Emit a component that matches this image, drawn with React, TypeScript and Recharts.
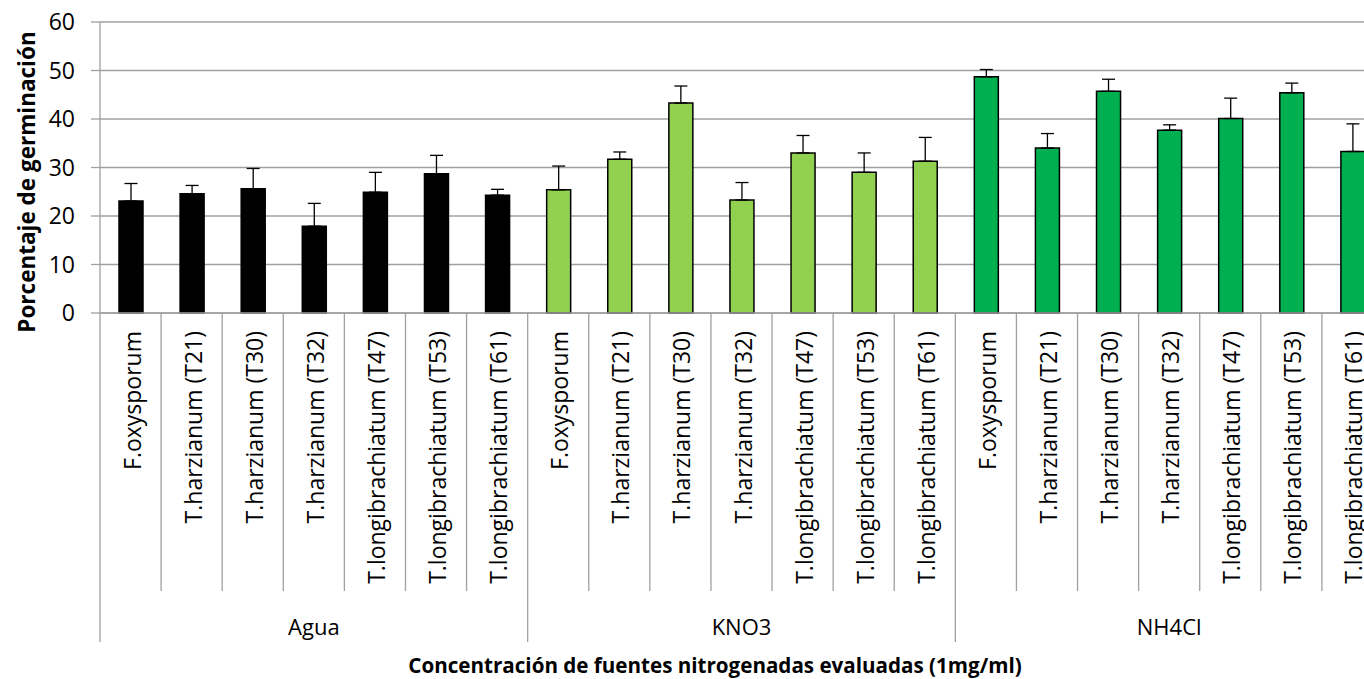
import { BarChart, Bar, XAxis, YAxis, CartesianGrid, Cell, ErrorBar } from 'recharts';

const SPECIES = [
  'F.oxysporum',
  'T.harzianum (T21)',
  'T.harzianum (T30)',
  'T.harzianum (T32)',
  'T.longibrachiatum (T47)',
  'T.longibrachiatum (T53)',
  'T.longibrachiatum (T61)',
];
const GROUPS = ['Agua', 'KNO3', 'NH4Cl'];

const AGUA = [23.1, 24.6, 25.6, 17.9, 24.9, 28.7, 24.3];
const AGUA_ERR = [3.6, 1.7, 4.2, 4.7, 4.1, 3.8, 1.2];
const KNO3 = [25.4, 31.7, 43.3, 23.3, 33.0, 29.0, 31.3];
const KNO3_ERR = [4.9, 1.5, 3.5, 3.6, 3.6, 4.0, 4.9];
const NH4CL = [48.7, 34.0, 45.7, 37.7, 40.1, 45.4, 33.3];
const NH4CL_ERR = [1.5, 3.0, 2.5, 1.1, 4.2, 2.0, 5.7];

const Y_TICKS = [0, 10, 20, 30, 40, 50, 60];
const GROUP_COLORS = ['#000000', '#92D050', '#00B050'];
const GRID = '#a0a0a0';

const VALUES = [AGUA, KNO3, NH4CL];
const ERRORS = [AGUA_ERR, KNO3_ERR, NH4CL_ERR];

const rows = GROUPS.flatMap((group, g) =>
  SPECIES.map((species, s) => ({
    id: `${group}-${species}`,
    group,
    species,
    groupIndex: g,
    value: VALUES[g][s],
    err: [0, ERRORS[g][s]],
  }))
);

const FONT = '"Open Sans", sans-serif';

function CategoryTick(props: any) {
  const { x, y, index, payload } = props;
  const half = payload?.offset || 30.55;
  const row = rows[index];
  const pos = index % SPECIES.length;
  const left = x - half;
  return (
    <g>
      <line x1={left} y1={y} x2={left} y2={y + (pos === 0 ? 329 : 278)} stroke={GRID} strokeWidth={1.3} />
      {index === rows.length - 1 && (
        <line x1={x + half} y1={y} x2={x + half} y2={y + 329} stroke={GRID} strokeWidth={1.3} />
      )}
      <text
        x={x + 10}
        y={y + 18}
        transform={`rotate(-90 ${x + 10} ${y + 18})`}
        textAnchor="end"
        fontSize={23}
        fill="#000"
        fontFamily={FONT}
      >
        {row.species}
      </text>
      {pos === 3 && (
        <text x={x} y={y + 322} textAnchor="middle" fontSize={22} fill="#000" fontFamily={FONT}>
          {row.group}
        </text>
      )}
    </g>
  );
}

function ValueTick(props: any) {
  const { y, payload } = props;
  return (
    <text x={75} y={y} dy="0.36em" textAnchor="end" fontSize={23} fill="#000" fontFamily={FONT}>
      {payload.value}
    </text>
  );
}

const XTitle = () => (
  <text x={715} y={673} textAnchor="middle" fontSize={20.6} fontWeight="bold" fill="#000" fontFamily={FONT}>
    Concentración de fuentes nitrogenadas evaluadas (1mg/ml)
  </text>
);

const YTitle = () => (
  <text
    x={35}
    y={182}
    transform="rotate(-90 35 182)"
    textAnchor="middle"
    fontSize={22.5}
    fontWeight="bold"
    fill="#000"
    fontFamily={FONT}
  >
    Porcentaje de germinación
  </text>
);

export default function App() {
  return (
    <div
      style={{
        position: 'absolute',
        left: 0,
        top: 0,
        width: 1364,
        height: 679,
        overflow: 'hidden',
        background: '#fff',
        fontFamily: FONT,
      }}
    >
      <BarChart
        width={1400}
        height={679}
        data={rows}
        margin={{ top: 22, right: 17, bottom: 0, left: 0 }}
      >
        <CartesianGrid vertical={false} stroke={GRID} strokeWidth={1.3} />
        <XAxis
          dataKey="id"
          interval={0}
          height={366}
          tickSize={0}
          tickMargin={0}
          tickLine={false}
          axisLine={{ stroke: GRID, strokeWidth: 1.3 }}
          tick={<CategoryTick />}
          label={<XTitle />}
        />
        <YAxis
          width={100}
          domain={[0, 60]}
          ticks={Y_TICKS}
          tickSize={9}
          tick={<ValueTick />}
          tickLine={{ stroke: GRID, strokeWidth: 1.3 }}
          axisLine={{ stroke: GRID, strokeWidth: 1.3 }}
          label={<YTitle />}
        />
        <Bar dataKey="value" barSize={24} stroke="#000" strokeWidth={1.5} isAnimationActive={false}>
          {rows.map((r) => (
            <Cell key={r.id} fill={GROUP_COLORS[r.groupIndex]} />
          ))}
          <ErrorBar dataKey="err" direction="y" width={6.5} stroke="#000" strokeWidth={1.3} isAnimationActive={false} />
        </Bar>
      </BarChart>
    </div>
  );
}
